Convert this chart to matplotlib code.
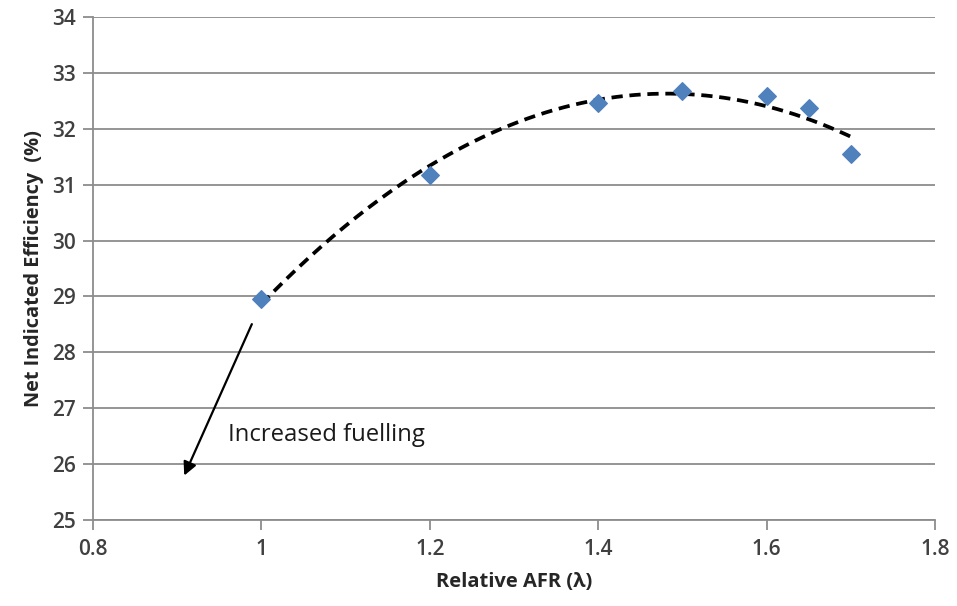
import matplotlib.pyplot as plt
import numpy as np

# measured points
afr = [1.0, 1.2, 1.4, 1.5, 1.6, 1.65, 1.7]
efficiency = [28.95, 31.17, 32.47, 32.68, 32.58, 32.38, 31.55]
x_ticks = [0.8, 1.0, 1.2, 1.4, 1.6, 1.8]
x_tick_labels = ["0.8", "1", "1.2", "1.4", "1.6", "1.8"]
y_ticks = [25, 26, 27, 28, 29, 30, 31, 32, 33, 34]

plt.rcParams['font.family'] = ['Open Sans', 'DejaVu Sans']

fig = plt.figure(figsize=(9.57, 6.06), dpi=100)
ax = fig.add_axes([93 / 957, 1 - 520 / 606, (935 - 93) / 957, (520 - 17) / 606])

# 2nd order polynomial trendline like excel
coef = np.polyfit(afr, efficiency, 2)
xs = np.linspace(min(afr), max(afr), 200)
ax.plot(xs, np.polyval(coef, xs), color='black', linestyle=(0, (3, 1.8)), linewidth=2.7, zorder=2)

ax.scatter(afr, efficiency, marker='D', s=80, color='#4f81bd', edgecolors='#4f81bd', zorder=3)

ax.set_xlim(0.8, 1.8)
ax.set_ylim(25, 34)
ax.set_xticks(x_ticks)
ax.set_xticklabels(x_tick_labels)
ax.set_yticks(y_ticks)
ax.yaxis.grid(True, color='#8c8c8c', linewidth=1.3)
ax.set_axisbelow(True)
for s in ['top', 'right']:
    ax.spines[s].set_visible(False)
for s in ['left', 'bottom']:
    ax.spines[s].set_color('#8c8c8c')
    ax.spines[s].set_linewidth(1.3)
ax.tick_params(axis='both', color='#8c8c8c', width=1.3, length=7, labelsize=15, labelcolor='#404040')
for lab in ax.get_xticklabels() + ax.get_yticklabels():
    lab.set_fontweight('semibold')
ax.tick_params(axis='x', pad=7)
ax.tick_params(axis='y', pad=5)

ax.set_xlabel("Relative AFR (λ)", fontsize=14.5, fontweight='bold', color='#262626', labelpad=8)
ax.set_ylabel("Net Indicated Efficiency  (%)", fontsize=14.3, fontweight='bold', color='#262626', labelpad=6)

ax.annotate("", xy=(0.907, 25.75), xytext=(0.99, 28.55),
            arrowprops=dict(arrowstyle='-|>', color='black', lw=1.6, mutation_scale=20))
ax.text(0.96, 26.52, "Increased fuelling", fontsize=17.2, color='#1a1a1a', va='center', ha='left')

plt.savefig("out.png", dpi=100)
